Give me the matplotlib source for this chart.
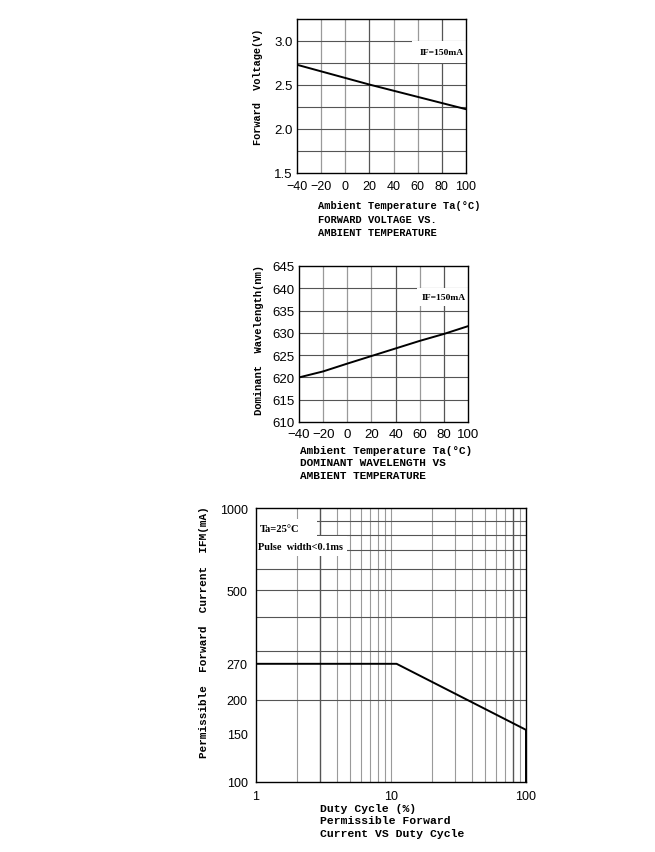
import matplotlib
matplotlib.use("Agg")
import matplotlib.pyplot as plt
from matplotlib.patches import Rectangle
from matplotlib.ticker import FixedLocator, NullFormatter, FixedFormatter

# ---- data ----
temp = [-40, -20, 0, 20, 40, 60, 80, 100]
vf = [2.73, 2.655, 2.58, 2.505, 2.435, 2.365, 2.295, 2.225]
wl = [620.0, 621.35, 623.1, 624.8, 626.5, 628.2, 629.75, 631.5]
duty = [1, 11, 100, 100]
ifm = [270, 270, 155, 100]

t_ticks = [-40, -20, 0, 20, 40, 60, 80, 100]
vf_ticks = [1.5, 2.0, 2.5, 3.0]
vf_grid = [1.75, 2.0, 2.25, 2.5, 2.75, 3.0]
wl_ticks = [610, 615, 620, 625, 630, 635, 640, 645]
ifm_ticks = [100, 150, 200, 270, 500, 1000]
ifm_grid = [200, 300, 400, 500, 600, 700, 800, 900]
duty_ticks = [1, 10, 100]
duty_grid = [2, 3, 4, 5, 6, 7, 8, 9, 10, 20, 30, 40, 50, 60, 70, 80, 90]

W, H = 655, 853
fig = plt.figure(figsize=(W / 100, H / 100), dpi=100)

MONO = "Liberation Mono"
SANS = "Liberation Sans"
SERIF = "Liberation Serif"
LIGHT = "#9a9a9a"
DARK = "#555555"


def fx(px):
    return px / W


def fy(py):
    return 1 - py / H


def style(ax, tsize):
    for s in ax.spines.values():
        s.set_linewidth(1.0)
        s.set_color("black")
    ax.tick_params(which="both", length=0, labelsize=tsize, pad=3)
    for lab in ax.get_xticklabels() + ax.get_yticklabels():
        lab.set_fontfamily(SANS)
    ax.set_axisbelow(True)


# ---------------- chart 1 ----------------
ax1 = fig.add_axes([fx(297), fy(174), fx(169), (174 - 20) / H])
ax1.plot(temp, vf, color="black", lw=1.4, zorder=3)
ax1.set_xlim(-40, 100)
ax1.set_ylim(1.5, 3.25)
ax1.set_xticks(t_ticks)
ax1.set_yticks(vf_ticks)
ax1.set_yticklabels(["1.5", "2.0", "2.5", "3.0"])
for x in t_ticks[1:-1]:
    ax1.axvline(x, color=DARK if x in (20, 80) else LIGHT, lw=0.9, zorder=0.5)
for y in vf_grid:
    ax1.axhline(y, color=DARK, lw=0.8, zorder=0.5)
style(ax1, 9)
ax1.tick_params(axis="y", labelsize=9.5)
ax1.tick_params(axis="x", pad=5)
ax1.text(98, 2.87, "IF=150mA", ha="right", va="center", fontsize=6.8,
         fontfamily=SERIF, fontweight="bold", zorder=2,
         bbox=dict(facecolor="white", edgecolor="none", pad=5.0))
fig.text(fx(258), fy(87), "Forward  Voltage(V)", rotation=90, ha="center",
         va="center", fontsize=7.4, fontfamily=MONO, fontweight="bold")
fig.text(fx(318), fy(201), "Ambient Temperature Ta(\u00b0C)\nFORWARD VOLTAGE VS.\nAMBIENT TEMPERATURE",
         ha="left", va="top", fontsize=7.5, fontfamily=MONO, fontweight="bold", linespacing=1.45)

# ---------------- chart 2 ----------------
ax2 = fig.add_axes([fx(299), fy(423), fx(169), (423 - 267) / H])
ax2.plot(temp, wl, color="black", lw=1.4, zorder=3)
ax2.set_xlim(-40, 100)
ax2.set_ylim(610, 645)
ax2.set_xticks(t_ticks)
ax2.set_yticks(wl_ticks)
for x in t_ticks[1:-1]:
    ax2.axvline(x, color=DARK if x in (40, 80) else LIGHT, lw=0.9, zorder=0.5)
for y in wl_ticks[1:-1]:
    ax2.axhline(y, color=DARK, lw=0.8, zorder=0.5)
style(ax2, 9.5)
ax2.tick_params(axis="x", labelsize=9.5, pad=4)
ax2.text(98, 638.0, "IF=150mA", ha="right", va="center", fontsize=6.8,
         fontfamily=SERIF, fontweight="bold", zorder=2,
         bbox=dict(facecolor="white", edgecolor="none", pad=3.5))
fig.text(fx(259), fy(340), "Dominant  Wavelength(nm)", rotation=90, ha="center",
         va="center", fontsize=7.6, fontfamily=MONO, fontweight="bold")
fig.text(fx(300), fy(446), "Ambient Temperature Ta(\u00b0C)\nDOMINANT WAVELENGTH VS\nAMBIENT TEMPERATURE",
         ha="left", va="top", fontsize=8, fontfamily=MONO, fontweight="bold", linespacing=1.3)

# ---------------- chart 3 ----------------
ax3 = fig.add_axes([fx(256), fy(783), fx(270), (783 - 509) / H])
ax3.plot(duty, ifm, color="black", lw=1.4, zorder=3)
ax3.set_xscale("log")
ax3.set_yscale("log")
ax3.set_xlim(1, 100)
ax3.set_ylim(100, 1000)
ax3.xaxis.set_major_locator(FixedLocator(duty_ticks))
ax3.xaxis.set_major_formatter(FixedFormatter([str(v) for v in duty_ticks]))
ax3.xaxis.set_minor_locator(FixedLocator([]))
ax3.yaxis.set_major_locator(FixedLocator(ifm_ticks))
ax3.yaxis.set_major_formatter(FixedFormatter([str(v) for v in ifm_ticks]))
ax3.yaxis.set_minor_locator(FixedLocator([]))
ax3.yaxis.set_minor_formatter(NullFormatter())
for x in duty_grid:
    ax3.axvline(x, color=DARK if x in (3, 80) else LIGHT, lw=1.0 if x in (3, 80) else 0.8, zorder=0.5)
for y in ifm_grid:
    ax3.axhline(y, color=DARK, lw=0.8, zorder=0.5)
style(ax3, 9)
ax3.tick_params(axis="both", pad=6)
# white label areas
ax3.add_patch(Rectangle((0, (783 - 537) / 274), (317 - 256) / 270, (537 - 520) / 274,
                        transform=ax3.transAxes, facecolor="white", edgecolor="none", zorder=1))
ax3.add_patch(Rectangle((0, (783 - 557) / 274), (347 - 256) / 270, (557 - 537) / 274,
                        transform=ax3.transAxes, facecolor="white", edgecolor="none", zorder=1))
ax3.text((260 - 256) / 270, (783 - 529) / 274, "Ta=25\u00b0C", transform=ax3.transAxes,
         ha="left", va="center", fontsize=7.6, fontfamily=SERIF, fontweight="bold", zorder=2)
ax3.text((258 - 256) / 270, (783 - 547) / 274, "Pulse  width<0.1ms", transform=ax3.transAxes,
         ha="left", va="center", fontsize=7.4, fontfamily=SERIF, fontweight="bold", zorder=2)
fig.text(fx(204), fy(632), "Permissible  Forward  Current  IFM(mA)", rotation=90, ha="center",
         va="center", fontsize=7.9, fontfamily=MONO, fontweight="bold")
fig.text(fx(320), fy(804), "Duty Cycle (%)\nPermissible Forward\nCurrent VS Duty Cycle",
         ha="left", va="top", fontsize=8.2, fontfamily=MONO, fontweight="bold", linespacing=1.3)

fig.savefig("out.png", dpi=100, facecolor="white")
